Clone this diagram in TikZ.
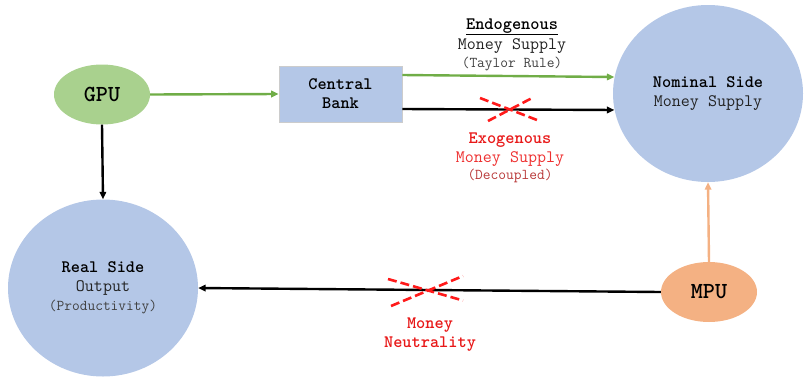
\documentclass[tikz,border=0pt]{standalone}
\usetikzlibrary{shapes.geometric,arrows.meta}
\definecolor{gpugreen}{HTML}{A9D18E}
\definecolor{linegreen}{HTML}{70AD47}
\definecolor{boxblue}{HTML}{B4C7E7}
\definecolor{mpuorange}{HTML}{F4B183}
\definecolor{xred}{HTML}{FF1A1A}
\definecolor{txtred}{HTML}{E81818}
\definecolor{softred}{HTML}{EE3030}
\definecolor{dimred}{HTML}{B83838}
\definecolor{txtdark}{HTML}{222222}
\definecolor{txtgray}{HTML}{404040}
\newcommand{\bigf}{\ttfamily\fontsize{17.5}{19}\selectfont}
\newcommand{\smallf}{\ttfamily\fontsize{15}{18}\selectfont}
\newcommand{\unitf}{\ttfamily\bfseries\fontsize{23}{24}\selectfont}
\begin{document}
\begin{tikzpicture}[x=1pt,y=-1pt,
  unitnode/.style={ellipse,inner sep=0pt,minimum width=96pt,minimum height=60pt,font=\unitf},
  sidenode/.style={ellipse,fill=boxblue,inner sep=0pt,minimum width=190pt,minimum height=177pt,align=center,font=\bigf},
  bankbox/.style={rectangle,fill=boxblue,draw=black!20,line width=0.6pt,minimum width=123pt,minimum height=56pt,align=center,inner sep=0pt,font=\bigf},
  link/.style={line width=2.4pt,-{Triangle[length=7.5pt,width=6.5pt]}},
  cross/.style={draw=xred,line width=2.6pt,dash pattern=on 9pt off 4pt},
  lbl/.style={inner sep=0pt,anchor=base,align=center}]
\useasboundingbox (0,0) rectangle (805,378);
% nodes
\node[unitnode,fill=gpugreen] (gpu) at (102,94.5) {GPU};
\node[bankbox] (cb) at (340.5,94) {\bfseries Central\\\bfseries Bank};
\node[sidenode] (nom) at (708,93.5) {\bfseries Nominal Side\\\color{txtdark}Money Supply};
\node[sidenode] (real) at (103,288) {\bfseries Real Side\\\color{txtdark}Output\\\smallf\color{txtgray}(Productivity)};
\node[unitnode,fill=mpuorange] (mpu) at (709,292) {MPU};
% connectors
\draw[link,draw=linegreen,fill=linegreen] (gpu.east) -- (cb.west);
\draw[link,draw=linegreen,fill=linegreen] ([yshift=19pt]cb.east) -- (nom.170);
\draw[link] ([yshift=-15pt]cb.east) -- (nom.190);
\draw[link] (gpu.south) -- (real.north);
\draw[link] (mpu.west) -- (real.east);
\draw[link,draw=mpuorange,fill=mpuorange] (mpu.north) -- (nom.south);
% crosses
\draw[cross] (480,98) -- (537,120);
\draw[cross] (488,121) -- (534,97);
\draw[cross] (388,279) -- (463,300.5);
\draw[cross] (391,306) -- (463,276);
% labels
\node[lbl] (endo) at (512,29) {\bigf\bfseries\underline{Endogenous}};
\node[lbl] (endoms) at (512,49) {\bigf\color{txtdark}Money Supply};
\node[lbl] (endotr) at (512,67) {\smallf\color{txtgray}(Taylor Rule)};
\node[lbl] (exo) at (510,143) {\bigf\bfseries\color{txtred}Exogenous};
\node[lbl] (exoms) at (510,162) {\bigf\color{softred}Money Supply};
\node[lbl] (exodc) at (510,179) {\smallf\color{dimred}(Decoupled)};
\node[lbl] (mn1) at (430,328) {\bigf\bfseries\color{txtred}Money};
\node[lbl] (mn2) at (430,347) {\bigf\bfseries\color{txtred}Neutrality};
\end{tikzpicture}
\end{document}
